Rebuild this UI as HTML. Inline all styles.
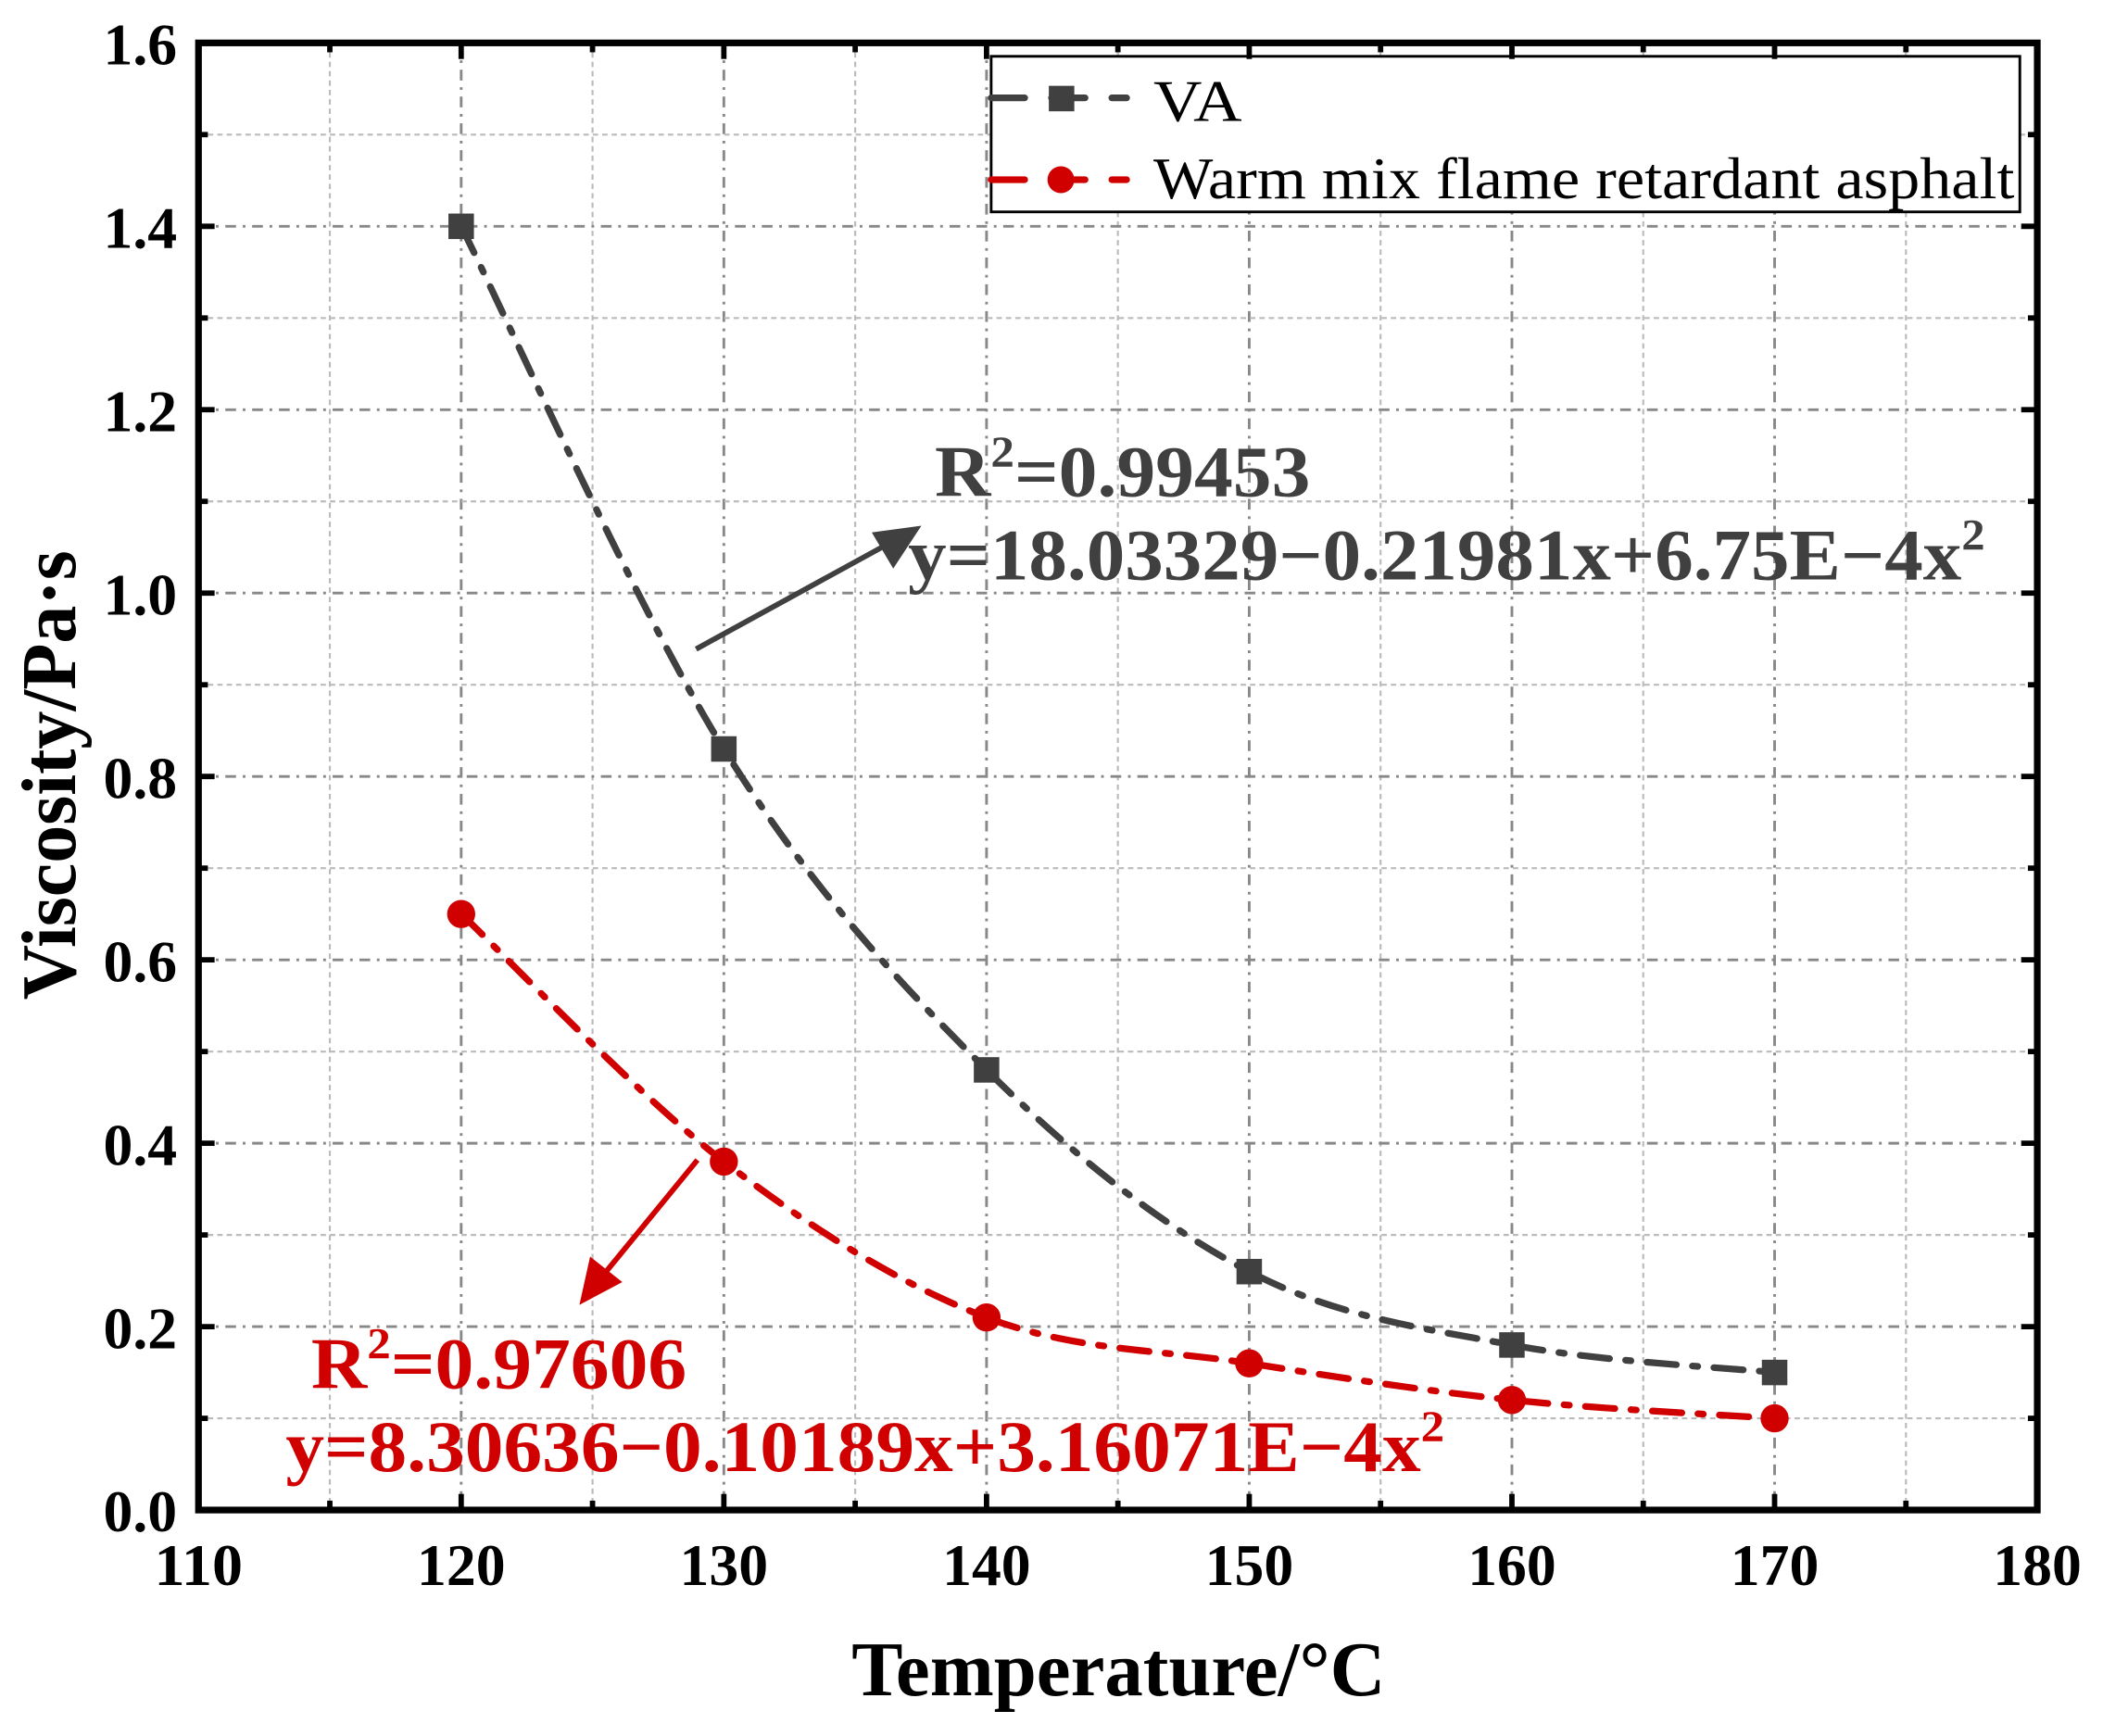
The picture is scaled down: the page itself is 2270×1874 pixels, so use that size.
<!DOCTYPE html>
<html><head><meta charset="utf-8"><style>html,body{margin:0;padding:0;background:#fff}svg{display:block}</style></head>
<body>
<svg id="s" xmlns="http://www.w3.org/2000/svg" width="2270" height="1874" viewBox="0 0 1568 1294.5" preserveAspectRatio="none" font-family="'Liberation Serif', serif">
<rect width="1568" height="1294.5" fill="#fff"/>
<g id="grid"></g>
<g id="curves"></g>
<!-- legend -->
<rect x="739" y="42" width="767" height="116" fill="#fff" stroke="#000" stroke-width="2"/>
<line x1="739" y1="73" x2="840" y2="73" stroke="#404040" stroke-width="5" stroke-dasharray="25,20" stroke-linecap="round"/>
<rect x="782" y="64" width="19" height="19" fill="#404040"/>
<text x="860" y="90" font-size="44" fill="#000" textLength="66" lengthAdjust="spacingAndGlyphs">VA</text>
<line x1="739" y1="134" x2="840" y2="134" stroke="#d00000" stroke-width="5" stroke-dasharray="25,20" stroke-linecap="round"/>
<circle cx="791" cy="134" r="10" fill="#d00000"/>
<text x="860" y="148" font-size="44" fill="#000" textLength="642" lengthAdjust="spacingAndGlyphs">Warm mix flame retardant asphalt</text>
<!-- annotations -->
<line x1="519" y1="484" x2="665" y2="404" stroke="#404040" stroke-width="4"/>
<polygon points="687,392 650,397 666,424" fill="#404040"/>
<text x="697" y="370" font-size="54" font-weight="bold" fill="#404040" textLength="280" lengthAdjust="spacingAndGlyphs">R<tspan dy="-22" font-size="33">2</tspan><tspan dy="22">=0.99453</tspan></text>
<text x="677" y="432" font-size="54" font-weight="bold" fill="#404040" textLength="803" lengthAdjust="spacingAndGlyphs">y=18.03329−0.21981x+6.75E−4x<tspan dy="-22" font-size="33">2</tspan></text>
<line x1="520" y1="865" x2="448" y2="953" stroke="#d00000" stroke-width="4"/>
<polygon points="432,973 440,937 464,956" fill="#d00000"/>
<text x="232" y="1035" font-size="54" font-weight="bold" fill="#d00000" textLength="280" lengthAdjust="spacingAndGlyphs">R<tspan dy="-22" font-size="33">2</tspan><tspan dy="22">=0.97606</tspan></text>
<text x="213" y="1097" font-size="54" font-weight="bold" fill="#d00000" textLength="864" lengthAdjust="spacingAndGlyphs">y=8.30636−0.10189x+3.16071E−4x<tspan dy="-22" font-size="33">2</tspan></text>
<!-- axes -->
<rect x="148" y="32" width="1371" height="1094" fill="none" stroke="#000" stroke-width="5"/>
<g id="ticks"></g>
<text x="834" y="1264" font-size="58" font-weight="bold" text-anchor="middle" textLength="398" lengthAdjust="spacingAndGlyphs">Temperature/°C</text>
<text transform="translate(56,578) rotate(-90)" font-size="58" font-weight="bold" text-anchor="middle" textLength="335" lengthAdjust="spacingAndGlyphs">Viscosity/Pa·s</text>
</svg>
<script>
const NS="http://www.w3.org/2000/svg";
const X=v=>148+(v-110)*1371/70, Y=v=>1126-v*1094/1.6;
function el(p,t,a,txt){const e=document.createElementNS(NS,t);for(const k in a)e.setAttribute(k,a[k]);if(txt!=null)e.textContent=txt;document.getElementById(p).appendChild(e);return e;}
for(let v=115;v<180;v+=5){const maj=v%10==0;el("grid","line",{x1:X(v),y1:32,x2:X(v),y2:1126,stroke:maj?"#888":"#bbb","stroke-width":maj?2:1.5,"stroke-dasharray":maj?"8,5,2,5":"4,3"});}
for(let i=1;i<16;i++){const v=i*0.1,maj=i%2==0;el("grid","line",{x1:148,y1:Y(v),x2:1519,y2:Y(v),stroke:maj?"#888":"#bbb","stroke-width":maj?2:1.5,"stroke-dasharray":maj?"8,5,2,5":"4,3"});}
for(let v=110;v<=180;v+=5){const maj=v%10==0,L=maj?12:7;el("ticks","line",{x1:X(v),y1:1126,x2:X(v),y2:1126-L,stroke:"#000","stroke-width":4});el("ticks","line",{x1:X(v),y1:32,x2:X(v),y2:32+L,stroke:"#000","stroke-width":4});
if(maj)el("ticks","text",{x:X(v),y:1182,"font-size":44,"font-weight":"bold","text-anchor":"middle",textLength:66,lengthAdjust:"spacingAndGlyphs"},String(v));}
for(let i=0;i<=16;i++){const v=i*0.1,maj=i%2==0,L=maj?12:7;el("ticks","line",{x1:148,y1:Y(v),x2:148+L,y2:Y(v),stroke:"#000","stroke-width":4});el("ticks","line",{x1:1519,y1:Y(v),x2:1519-L,y2:Y(v),stroke:"#000","stroke-width":4});
if(maj)el("ticks","text",{x:132,y:Y(v)+16,"font-size":44,"font-weight":"bold","text-anchor":"end"},v.toFixed(1));}
function spline(pts,col){const P=pts.map(([x,y])=>[X(x),Y(y)]);let d="M"+P[0][0]+","+P[0][1];
for(let i=0;i<P.length-1;i++){const p0=P[Math.max(i-1,0)],p1=P[i],p2=P[i+1],p3=P[Math.min(i+2,P.length-1)];
const c1=[p1[0]+(p2[0]-p0[0])/6,p1[1]+(p2[1]-p0[1])/6],c2=[p2[0]-(p3[0]-p1[0])/6,p2[1]-(p3[1]-p1[1])/6];
d+="C"+c1.join(",")+" "+c2.join(",")+" "+p2.join(",");}
el("curves","path",{d:d,fill:"none",stroke:col,"stroke-width":5,"stroke-dasharray":"22,12,4,12","stroke-linecap":"round"});}
const va=[[120,1.4],[130,0.83],[140,0.48],[150,0.26],[160,0.18],[170,0.15]];
const wm=[[120,0.65],[130,0.38],[140,0.21],[150,0.16],[160,0.12],[170,0.10]];
spline(va,"#404040");spline(wm,"#d00000");
va.forEach(([x,y])=>el("curves","rect",{x:X(x)-9.5,y:Y(y)-9.5,width:19,height:19,fill:"#404040"}));
wm.forEach(([x,y])=>el("curves","circle",{cx:X(x),cy:Y(y),r:10.5,fill:"#d00000"}));
</script>
</body></html>
